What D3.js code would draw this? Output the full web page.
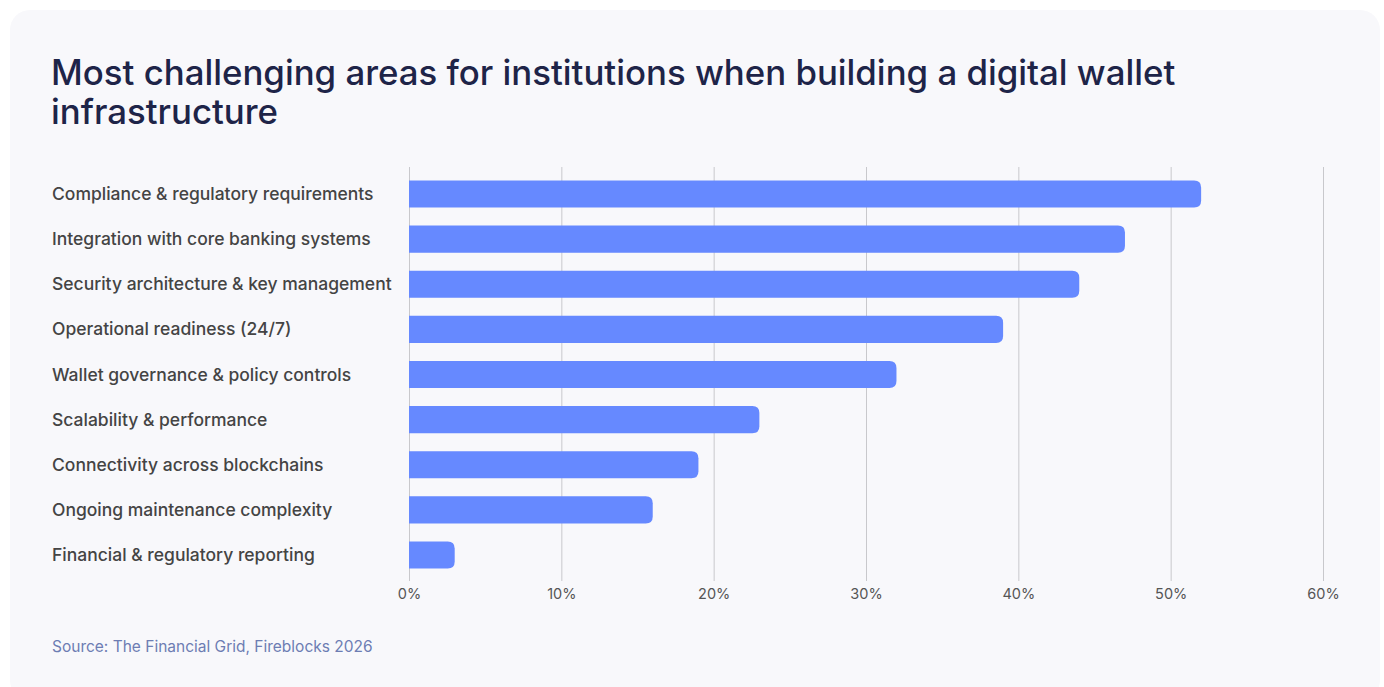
<!DOCTYPE html>
<html>
<head>
<meta charset="utf-8">
<script src="https://cdn.jsdelivr.net/npm/d3@7"></script>
<style>
  html, body { margin: 0; padding: 0; background: #ffffff; }
  svg { display: block; }
</style>
</head>
<body>
<svg id="chart" width="1384" height="687"></svg>
<script>
// Survey results: share of institutions naming each area as most challenging
const categories = [
  "Compliance & regulatory requirements",
  "Integration with core banking systems",
  "Security architecture & key management",
  "Operational readiness (24/7)",
  "Wallet governance & policy controls",
  "Scalability & performance",
  "Connectivity across blockchains",
  "Ongoing maintenance complexity",
  "Financial & regulatory reporting"
];
const values = [52, 47, 44, 39, 32, 23, 19, 16, 3];
const tickValues = [0, 10, 20, 30, 40, 50, 60];
const titleLines = [
  "Most challenging areas for institutions when building a digital wallet",
  "infrastructure"
];
const sourceText = "Source: The Financial Grid, Fireblocks 2026";

const svg = d3.select("#chart");

// Card background
svg.append("rect")
  .attr("x", 10).attr("y", 10)
  .attr("width", 1370).attr("height", 690)
  .attr("rx", 20)
  .attr("fill", "#f8f8fb");

// Title
const title = svg.append("text")
  .attr("font-family", "Inter, 'Noto Sans', sans-serif")
  .attr("font-weight", 500)
  .attr("font-size", 34.8)
  .attr("fill", "#1e2448");
titleLines.forEach((line, i) => {
  title.append("tspan").attr("x", 51).attr("y", 85 + i * 39).text(line);
});

const x = d3.scaleLinear().domain([0, 60]).range([409, 1323]);
const y = d3.scaleBand().domain(categories).range([171.4, 577.6])
  .paddingInner(0.4).paddingOuter(0.2);

// Vertical gridlines
svg.append("g")
  .selectAll("line")
  .data(tickValues)
  .join("line")
  .attr("x1", d => x(d) + 0.5).attr("x2", d => x(d) + 0.5)
  .attr("y1", 167).attr("y2", 581)
  .attr("stroke", "#c8c8cc")
  .attr("stroke-width", 1);

// Axis tick labels
const xAxis = d3.axisBottom(x)
  .tickValues(tickValues)
  .tickFormat(d => d + "%")
  .tickSize(0)
  .tickPadding(0);
const axisG = svg.append("g")
  .attr("transform", "translate(0,589)")
  .call(xAxis);
axisG.select(".domain").remove();
axisG.selectAll("text")
  .attr("font-family", "Inter, 'Noto Sans', sans-serif")
  .attr("font-size", 14.5)
  .attr("fill", "#555555")
  .attr("dy", "0.71em");

// Bars with a square left end and rounded right end
const r = 7;
function barPath(d, i) {
  const x0 = x(0), x1 = x(d), y0 = y(categories[i]), h = y.bandwidth();
  const rr = Math.min(r, (x1 - x0) / 2, h / 2);
  return `M${x0},${y0}H${x1 - rr}Q${x1},${y0} ${x1},${y0 + rr}` +
         `V${y0 + h - rr}Q${x1},${y0 + h} ${x1 - rr},${y0 + h}H${x0}Z`;
}
svg.append("g")
  .selectAll("path")
  .data(values)
  .join("path")
  .attr("d", barPath)
  .attr("fill", "#6689ff");

// Category labels
svg.append("g")
  .selectAll("text")
  .data(categories)
  .join("text")
  .attr("x", 52)
  .attr("y", d => y(d) + y.bandwidth() / 2)
  .attr("dy", "0.35em")
  .attr("font-family", "Inter, 'Noto Sans', sans-serif")
  .attr("font-weight", 500)
  .attr("font-size", 17.5)
  .attr("fill", "#444444")
  .text(d => d);

// Source note
svg.append("text")
  .attr("x", 52).attr("y", 652)
  .attr("font-family", "Inter, 'Noto Sans', sans-serif")
  .attr("font-weight", 400)
  .attr("font-size", 15.5)
  .attr("fill", "#6d7db3")
  .text(sourceText);
</script>
</body>
</html>
